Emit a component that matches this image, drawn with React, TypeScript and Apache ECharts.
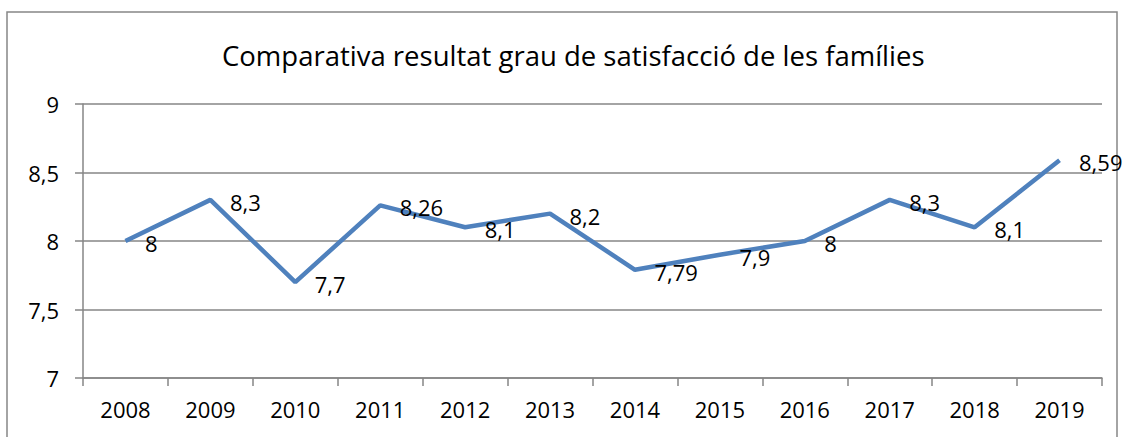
import React, { useEffect, useRef } from "react";
import * as echarts from "echarts";

const title = "Comparativa resultat grau de satisfacció de les famílies";
const years = ["2008", "2009", "2010", "2011", "2012", "2013", "2014", "2015", "2016", "2017", "2018", "2019"];
const values = [8, 8.3, 7.7, 8.26, 8.1, 8.2, 7.79, 7.9, 8, 8.3, 8.1, 8.59];

const FONT = "'Open Sans', 'Noto Sans', sans-serif";
const comma = (v: number | string) => String(v).replace(".", ",");

export default function App() {
  const ref = useRef<HTMLDivElement>(null);
  useEffect(() => {
    document.body.style.margin = "0";
    const chart = echarts.init(ref.current!, null, { renderer: "svg" });
    chart.setOption({
      animation: false,
      backgroundColor: "#ffffff",
      title: {
        text: title,
        left: 217,
        top: 36,
        textStyle: { fontFamily: FONT, fontSize: 27.5, fontWeight: "normal", color: "#000" },
      },
      graphic: [
        {
          type: "rect",
          shape: { x: 7, y: 12, width: 1110, height: 440 },
          style: { fill: "none", stroke: "#878787", lineWidth: 1.5 },
          silent: true,
        },
      ],
      grid: { left: 83, right: 21, top: 104, bottom: 59 },
      xAxis: {
        type: "category",
        data: years,
        boundaryGap: true,
        axisLine: { lineStyle: { color: "#868686", width: 1.5 } },
        axisTick: { show: true, length: 8, interval: 0, lineStyle: { color: "#868686", width: 1.5 } },
        axisLabel: { fontFamily: FONT, fontSize: 22, color: "#000", margin: 20, interval: 0 },
      },
      yAxis: {
        type: "value",
        min: 7,
        max: 9,
        interval: 0.5,
        axisLine: { show: true, lineStyle: { color: "#868686", width: 1.5 } },
        axisTick: { show: true, length: 8, lineStyle: { color: "#868686", width: 1.5 } },
        splitLine: { lineStyle: { color: "#868686", width: 1.5 } },
        axisLabel: {
          fontFamily: FONT,
          fontSize: 22,
          color: "#000",
          margin: 24,
          formatter: (v: number) => comma(v),
        },
      },
      series: [
        {
          type: "line",
          data: values,
          symbol: "circle",
          symbolSize: 1,
          showSymbol: true,
          lineStyle: { color: "#4F81BD", width: 4.5 },
          itemStyle: { color: "rgba(0,0,0,0)" },
          label: {
            show: true,
            position: "right",
            distance: 19,
            offset: [0, 2],
            fontFamily: FONT,
            fontSize: 22,
            color: "#000",
            formatter: (p: any) => comma(p.value),
          },
        },
      ],
    });
    return () => chart.dispose();
  }, []);
  return <div ref={ref} style={{ width: 1123, height: 437 }} />;
}
